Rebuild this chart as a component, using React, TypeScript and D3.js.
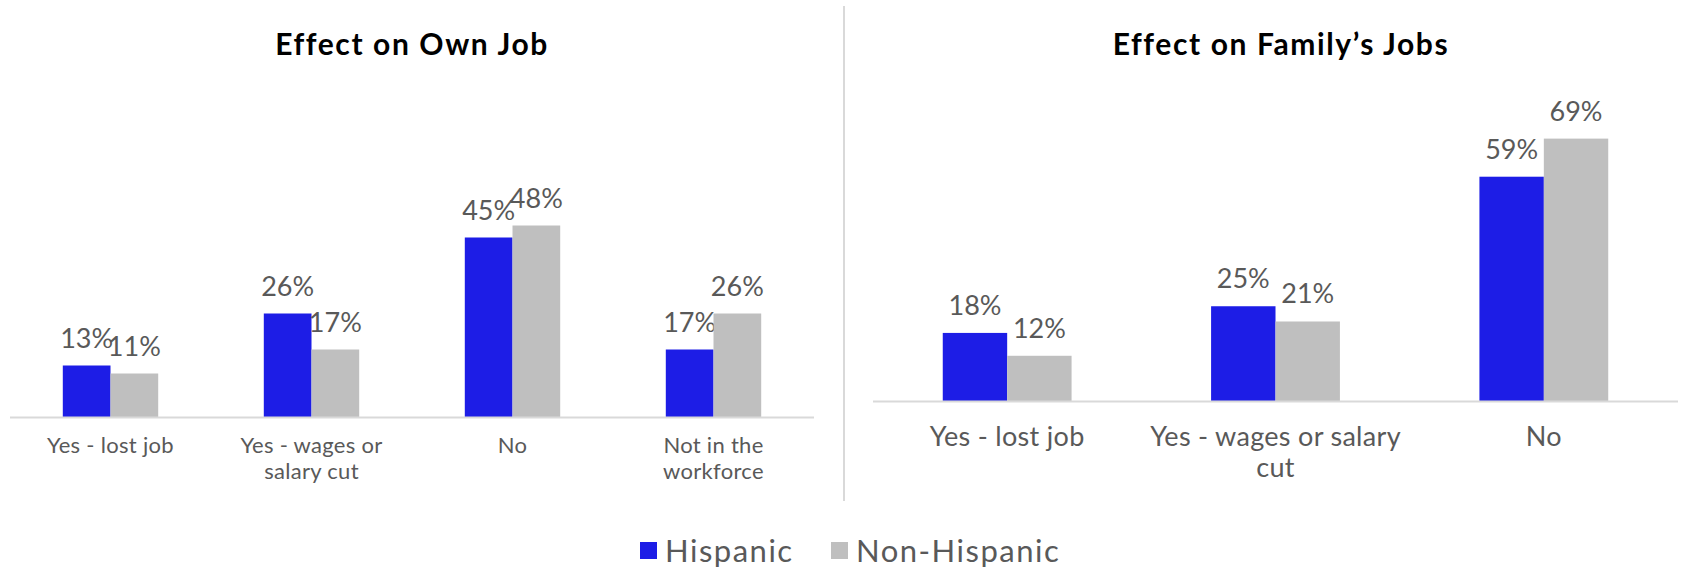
import React from "react";
import * as d3 from "d3";

// ---- Data ----
const seriesNames = ["Hispanic", "Non-Hispanic"];

const ownJobTitle = "Effect on Own Job";
const ownJobCategories = ["Yes - lost job", "Yes - wages or salary cut", "No", "Not in the workforce"];
const ownJobLabelLines = [["Yes - lost job"], ["Yes - wages or", "salary cut"], ["No"], ["Not in the", "workforce"]];
const ownJobHispanic = [13, 26, 45, 17];
const ownJobNonHispanic = [11, 17, 48, 26];

const familyTitle = "Effect on Family\u2019s Jobs";
const familyCategories = ["Yes - lost job", "Yes - wages or salary cut", "No"];
const familyLabelLines = [["Yes - lost job"], ["Yes - wages or salary", "cut"], ["No"]];
const familyHispanic = [18, 25, 59];
const familyNonHispanic = [12, 21, 69];

const COLORS = ["#1D1DE6", "#BFBFBF"];
const TEXT = "#595959";
const AXIS = "#D9D9D9";
const FONT = "Lato, 'DejaVu Sans', sans-serif";

type PanelProps = {
  title: string;
  titleX: number;
  categories: string[];
  labelLines: string[][];
  values: number[][];
  x0: number;
  x1: number;
  baseline: number;
  pxPerPct: number;
  outerPad: number;
  catFont: number;
  catBaselineOffset: number;
  catLineHeight: number;
};

function Panel(p: PanelProps) {
  const xBand = d3.scaleBand<string>().domain(p.categories).range([p.x0, p.x1]).padding(0);
  const xInner = d3
    .scaleBand<string>()
    .domain(seriesNames)
    .range([0, xBand.bandwidth()])
    .paddingInner(0)
    .paddingOuter(p.outerPad);
  const y = d3.scaleLinear().domain([0, 100]).range([p.baseline, p.baseline - 100 * p.pxPerPct]);

  return (
    <g>
      <text
        x={p.titleX}
        y={55}
        textAnchor="middle"
        fontFamily={FONT}
        fontWeight={700}
        fontSize={30}
        letterSpacing={1.6}
        fill="#000"
      >
        {p.title}
      </text>
      {p.categories.map((c, i) => (
        <g key={c}>
          {seriesNames.map((s, si) => {
            const v = p.values[si][i];
            const bx = (xBand(c) as number) + (xInner(s) as number);
            const bw = xInner.bandwidth();
            return (
              <g key={s}>
                <rect x={bx} y={y(v)} width={bw} height={p.baseline - y(v)} fill={COLORS[si]} />
                <text
                  x={bx + bw / 2}
                  y={y(v) - 18}
                  textAnchor="middle"
                  fontFamily={FONT}
                  fontSize={27}
                  fill={TEXT}
                >
                  {v + "%"}
                </text>
              </g>
            );
          })}
          {p.labelLines[i].map((line, li) => (
            <text
              key={li}
              x={(xBand(c) as number) + xBand.bandwidth() / 2}
              y={p.baseline + p.catBaselineOffset + li * p.catLineHeight}
              textAnchor="middle"
              fontFamily={FONT}
              fontSize={p.catFont}
              letterSpacing={0.3}
              fill={TEXT}
            >
              {line}
            </text>
          ))}
        </g>
      ))}
      <line x1={p.x0} x2={p.x1} y1={p.baseline} y2={p.baseline} stroke={AXIS} strokeWidth={2} />
    </g>
  );
}

export default function App() {
  return (
    <svg
      width={1681}
      height={567}
      style={{ position: "absolute", left: 0, top: 0, background: "#fff" }}
    >
      <rect width={1681} height={567} fill="#fff" />
      <Panel
        title={ownJobTitle}
        titleX={412}
        categories={ownJobCategories}
        labelLines={ownJobLabelLines}
        values={[ownJobHispanic, ownJobNonHispanic]}
        x0={10}
        x1={814}
        baseline={417.5}
        pxPerPct={4.0}
        outerPad={1.107}
        catFont={22}
        catBaselineOffset={35}
        catLineHeight={26}
      />
      <Panel
        title={familyTitle}
        titleX={1281}
        categories={familyCategories}
        labelLines={familyLabelLines}
        values={[familyHispanic, familyNonHispanic]}
        x0={873}
        x1={1678}
        baseline={401.5}
        pxPerPct={3.81}
        outerPad={1.083}
        catFont={27}
        catBaselineOffset={44}
        catLineHeight={31.5}
      />
      <line x1={844} x2={844} y1={6} y2={501} stroke={AXIS} strokeWidth={2} />
      {seriesNames.map((s, i) => {
        const lx = [640, 831][i];
        return (
          <g key={s}>
            <rect x={lx} y={542} width={17} height={17} fill={COLORS[i]} />
            <text x={lx + 25} y={561.5} fontFamily={FONT} fontSize={31} letterSpacing={1.5} fill={TEXT}>
              {s}
            </text>
          </g>
        );
      })}
    </svg>
  );
}
